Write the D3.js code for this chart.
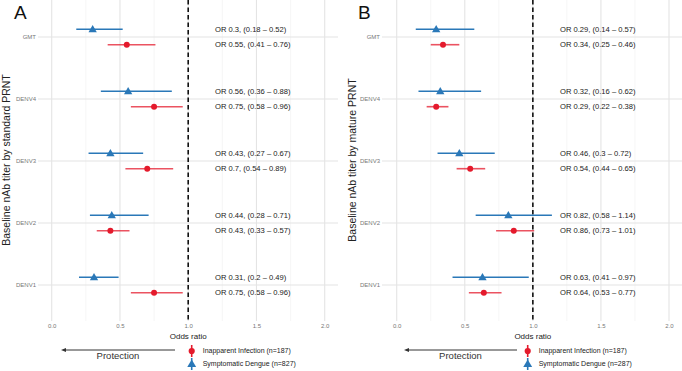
<!DOCTYPE html>
<html><head><meta charset="utf-8">
<script src="https://cdn.jsdelivr.net/npm/d3@7"></script>
<style>body{margin:0;background:#fff;} svg{display:block;font-family:"Liberation Sans",Arial,sans-serif;}</style>
</head><body>
<svg id="c" width="682" height="371"></svg>
<script>
const categories = ["GMT","DENV4","DENV3","DENV2","DENV1"];
const xTicks = [0,0.5,1,1.5,2];
const xMinor = [0.25,0.75,1.25,1.75];
// Panel A (standard PRNT)
const aSympOR = [0.3,0.56,0.43,0.44,0.31];
const aSympLo = [0.18,0.36,0.27,0.28,0.2];
const aSympHi = [0.52,0.88,0.67,0.71,0.49];
const aInapOR = [0.55,0.75,0.7,0.43,0.75];
const aInapLo = [0.41,0.58,0.54,0.33,0.58];
const aInapHi = [0.76,0.96,0.89,0.57,0.96];
// Panel B (mature PRNT)
const bSympOR = [0.29,0.32,0.46,0.82,0.63];
const bSympLo = [0.14,0.16,0.3,0.58,0.41];
const bSympHi = [0.57,0.62,0.72,1.14,0.97];
const bInapOR = [0.34,0.29,0.54,0.86,0.64];
const bInapLo = [0.25,0.22,0.44,0.73,0.53];
const bInapHi = [0.46,0.38,0.65,1.01,0.77];

const RED = "#e41a2c", BLUE = "#2a78b8";
const svg = d3.select("#c");

function panel(opt){
  const g = svg.append("g");
  const x = d3.scaleLinear().domain([0,2]).range([opt.x0, opt.x2]);
  const y = d3.scalePoint().domain(categories).range([37,285]);
  const top = 0, bottom = 321;
  // grid
  g.selectAll(".mn").data(xMinor).join("line")
    .attr("x1",d=>x(d)).attr("x2",d=>x(d)).attr("y1",top).attr("y2",bottom)
    .attr("stroke","#f0f0f0").attr("stroke-width",0.6);
  g.selectAll(".mj").data(xTicks).join("line")
    .attr("x1",d=>x(d)).attr("x2",d=>x(d)).attr("y1",top).attr("y2",bottom)
    .attr("stroke","#e4e4e4").attr("stroke-width",1.1);
  g.selectAll(".hy").data(categories).join("line")
    .attr("x1",opt.pl).attr("x2",opt.pr).attr("y1",d=>y(d)).attr("y2",d=>y(d))
    .attr("stroke","#e4e4e4").attr("stroke-width",1.1);
  // axes text
  const xa = d3.axisBottom(x).tickValues(xTicks).tickFormat(d3.format(".1f")).tickSize(0).tickPadding(0);
  const xg = g.append("g").attr("transform",`translate(0,${bottom+2})`).call(xa);
  xg.select(".domain").remove();
  xg.selectAll("text").attr("fill","#777").attr("font-size",6).attr("dy","0.9em");
  const ya = d3.axisLeft(y).tickSize(0).tickPadding(2);
  const yg = g.append("g").attr("transform",`translate(${opt.pl},0)`).call(ya);
  yg.select(".domain").remove();
  yg.selectAll("text").attr("fill","#777").attr("font-size",6);
  // dashed reference line
  g.append("line").attr("x1",x(1)).attr("x2",x(1)).attr("y1",top).attr("y2",bottom)
    .attr("stroke","#111").attr("stroke-width",1.6).attr("stroke-dasharray","4.5,3");
  // series
  const series = [
    {or:opt.sOR, lo:opt.sLo, hi:opt.sHi, col:BLUE, off:-7.7, shape:"tri"},
    {or:opt.iOR, lo:opt.iLo, hi:opt.iHi, col:RED, off:7.7, shape:"circ"}
  ];
  series.forEach(s=>{
    const data = categories.map((c,i)=>({c, or:s.or[i], lo:s.lo[i], hi:s.hi[i]}));
    g.selectAll(null).data(data).join("line")
      .attr("x1",d=>x(d.lo)).attr("x2",d=>x(d.hi))
      .attr("y1",d=>y(d.c)+s.off).attr("y2",d=>y(d.c)+s.off)
      .attr("stroke",s.col).attr("stroke-width",1.6).attr("stroke-opacity",s.shape==="circ"?0.75:1);
    const sym = d3.symbol().type(s.shape==="tri"?d3.symbolTriangle:d3.symbolCircle).size(s.shape==="tri"?30:28);
    g.selectAll(null).data(data).join("path")
      .attr("d",sym)
      .attr("transform",d=>`translate(${x(d.or)},${y(d.c)+s.off+(s.shape==="tri"?0.5:0)})`)
      .attr("fill",s.col);
    g.selectAll(null).data(data).join("text")
      .attr("x",opt.tx).attr("y",d=>y(d.c)+s.off).attr("dy","0.35em")
      .attr("font-size",7.6).attr("fill","#222")
      .text(d=>`OR ${d.or}, (${d.lo} \u2013 ${d.hi})`);
  });
  // panel label
  g.append("text").attr("x",opt.pl-24).attr("y",19).attr("font-size",19).attr("fill","#111").text(opt.label);
  // y title
  g.append("text").attr("transform",`translate(${opt.ytx},160) rotate(-90)`)
    .attr("text-anchor","middle").attr("dy","0.35em").attr("font-size",10.5).attr("fill","#222").text(opt.ytitle);
  // x title
  g.append("text").attr("x",x(1)).attr("y",336).attr("dy","0.35em").attr("text-anchor","middle")
    .attr("font-size",8).attr("fill","#222").text("Odds ratio");
  // protection arrow
  const ay = 350;
  g.append("line").attr("x1",opt.arrX1).attr("x2",opt.arrX0+4).attr("y1",ay).attr("y2",ay)
    .attr("stroke","#333").attr("stroke-width",1);
  g.append("path").attr("d",`M${opt.arrX0},${ay} l5,-2 l0,4 z`).attr("fill","#333");
  g.append("text").attr("x",(opt.arrX0+opt.arrX1)/2).attr("y",356).attr("dy","0.35em")
    .attr("text-anchor","middle").attr("font-size",9.5).attr("fill","#333").text("Protection");
  // legend
  const legend = [
    {lab:"Inapparent Infection (n=187)", col:RED, shape:"circ", y:351},
    {lab:opt.sympLabel, col:BLUE, shape:"tri", y:364}
  ];
  legend.forEach(l=>{
    g.append("line").attr("x1",opt.lgx).attr("x2",opt.lgx).attr("y1",l.y-6).attr("y2",l.y+6)
      .attr("stroke",l.col).attr("stroke-width",1.6);
    const sym = d3.symbol().type(l.shape==="tri"?d3.symbolTriangle:d3.symbolCircle).size(l.shape==="tri"?34:30);
    g.append("path").attr("d",sym).attr("transform",`translate(${opt.lgx},${l.y+(l.shape==="tri"?0.5:0)})`).attr("fill",l.col);
    g.append("text").attr("x",opt.lgx+11).attr("y",l.y).attr("dy","0.35em").attr("font-size",7).attr("fill","#222").text(l.lab);
  });
}

panel({x0:51.7, x2:324.7, pl:38, pr:338, tx:215, label:"A", ytx:6,
  ytitle:"Baseline nAb titer by standard PRNT",
  sOR:aSympOR, sLo:aSympLo, sHi:aSympHi, iOR:aInapOR, iLo:aInapLo, iHi:aInapHi,
  arrX0:61, arrX1:175, lgx:191.7, sympLabel:"Symptomatic Dengue (n=827)"});
panel({x0:396.7, x2:669, pl:382, pr:682, tx:560, label:"B", ytx:352,
  ytitle:"Baseline nAb titer by mature PRNT",
  sOR:bSympOR, sLo:bSympLo, sHi:bSympHi, iOR:bInapOR, iLo:bInapLo, iHi:bInapHi,
  arrX0:404, arrX1:517, lgx:527.7, sympLabel:"Symptomatic Dengue (n=287)"});
</script>
</body></html>
